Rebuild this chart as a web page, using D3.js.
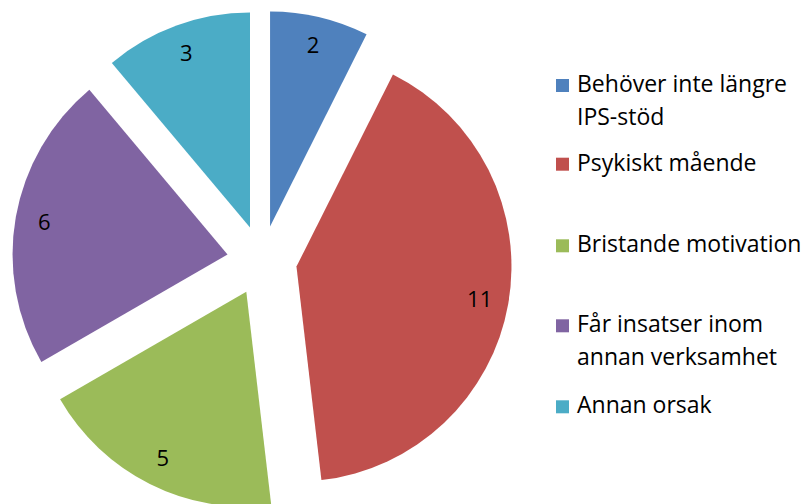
<!DOCTYPE html>
<html lang="sv">
<head>
  <meta charset="UTF-8" />
  <title>Orsaker</title>
  <script src="https://d3js.org/d3.v7.min.js"></script>
  <style>
    body { margin: 0; background: #fff; }
    svg { display: block; }
    text { font-family: "Open Sans", Lato, sans-serif; fill: #000; }
  </style>
</head>
<body>
  <svg id="chart"></svg>
  <script>
    const categories = [
      ["Behöver inte längre", "IPS-stöd"],
      ["Psykiskt mående"],
      ["Bristande motivation"],
      ["Får insatser inom", "annan verksamhet"],
      ["Annan orsak"]
    ];
    const values = [2, 11, 5, 6, 3];
    const colors = ["#4F81BD", "#C0504D", "#9BBB59", "#8064A2", "#4BACC6"];

    const width = 807, height = 504;
    const cx = 262, cy = 260.5, radius = 215, explode = 35, labelR = 186;

    const svg = d3.select("#chart")
      .attr("width", width)
      .attr("height", height);

    const pie = d3.pie().sort(null).value(d => d);
    const arcs = pie(values);
    const arc = d3.arc().innerRadius(0).outerRadius(radius);

    const g = svg.append("g").attr("transform", `translate(${cx},${cy})`);

    const slice = g.selectAll("g.slice")
      .data(arcs)
      .join("g")
      .attr("class", "slice")
      .attr("transform", d => {
        const mid = (d.startAngle + d.endAngle) / 2;
        return `translate(${explode * Math.sin(mid)},${-explode * Math.cos(mid)})`;
      });

    slice.append("path")
      .attr("d", arc)
      .attr("fill", (d, i) => colors[i]);

    slice.append("text")
      .attr("x", d => labelR * Math.sin((d.startAngle + d.endAngle) / 2))
      .attr("y", d => -labelR * Math.cos((d.startAngle + d.endAngle) / 2))
      .attr("text-anchor", "middle")
      .attr("dy", "0.36em")
      .attr("font-size", 22)
      .text(d => d.data);

    // legend
    const legendY = [92, 170.7, 252.3, 332.3, 413.3];
    const legend = svg.append("g");
    categories.forEach((lines, i) => {
      const y = legendY[i];
      legend.append("rect")
        .attr("x", 556)
        .attr("y", y - 13)
        .attr("width", 13)
        .attr("height", 13)
        .attr("fill", colors[i]);
      lines.forEach((t, j) => {
        legend.append("text")
          .attr("x", 577)
          .attr("y", y + j * 33)
          .attr("font-size", 23)
          .text(t);
      });
    });
  </script>
</body>
</html>
